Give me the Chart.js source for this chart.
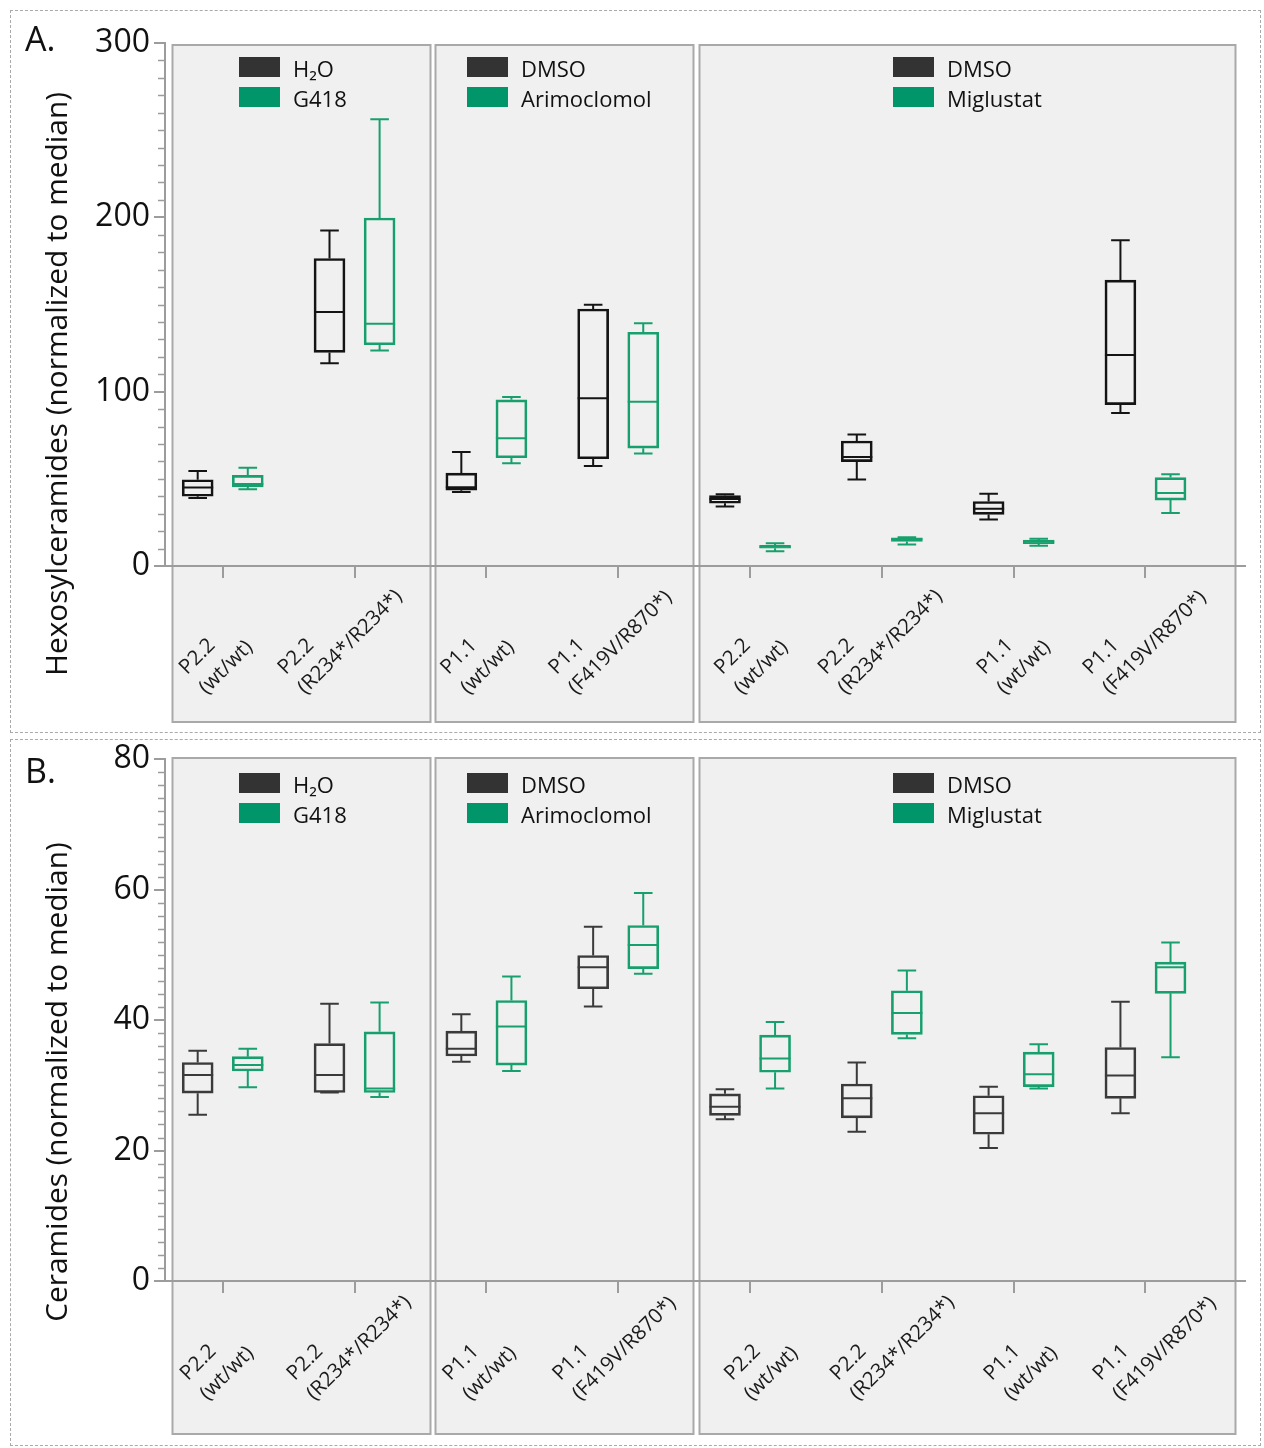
<!DOCTYPE html>
<html>
<head>
<meta charset="utf-8">
<title>Hexosylceramides and ceramides</title>
<script src="https://cdn.jsdelivr.net/npm/chart.js@4.4.1/dist/chart.umd.min.js"></script>
<style>
  html, body { margin: 0; padding: 0; background: #fff; }
  #wrap { position: relative; width: 1264px; height: 1448px; overflow: hidden; }
  .frame { position: absolute; border: 1px dashed #a9a9a9; box-sizing: border-box; }
  canvas { position: absolute; left: 0; }
</style>
</head>
<body>
<div id="wrap">
  <div class="frame" style="left:10px;top:10px;width:1251px;height:723px"></div>
  <div class="frame" style="left:10px;top:739px;width:1251px;height:707px"></div>
  <canvas id="hexChart" width="1264" height="736" style="top:0"></canvas>
  <canvas id="cerChart" width="1264" height="712" style="top:736px"></canvas>
</div>
<script>
// ---- data ---------------------------------------------------------------
const categories = [
  ['P2.2', '(wt/wt)'], ['P2.2', '(R234*/R234*)'],
  ['P1.1', '(wt/wt)'], ['P1.1', '(F419V/R870*)'],
  ['P2.2', '(wt/wt)'], ['P2.2', '(R234*/R234*)'],
  ['P1.1', '(wt/wt)'], ['P1.1', '(F419V/R870*)']
];
const vehicleNames = ['H\u2082O', 'DMSO', 'DMSO'];
const treatmentNames = ['G418', 'Arimoclomol', 'Miglustat'];

// five-number summaries per category: [min, q1, median, q3, max]
const hexVehicle = [
  [39.0, 40.0, 45.0, 49.5, 54.5],
  [116.3, 122.5, 145.7, 176.4, 192.4],
  [42.5, 43.5, 45.2, 53.3, 65.4],
  [57.4, 61.5, 96.2, 147.4, 149.8],
  [34.1, 36.0, 38.4, 40.4, 41.1],
  [49.6, 59.9, 62.5, 71.7, 75.4],
  [26.7, 29.6, 32.9, 37.0, 41.5],
  [87.7, 92.6, 121.0, 164.0, 186.9]
];
const hexTreated = [
  [44.0, 45.3, 47.0, 52.0, 56.3],
  [123.6, 126.9, 138.9, 199.6, 256.3],
  [59.0, 62.1, 73.3, 95.3, 96.9],
  [64.6, 67.6, 94.2, 134.1, 139.2],
  [8.5, 10.2, 11.0, 11.8, 13.1],
  [12.3, 14.1, 15.3, 16.1, 16.5],
  [11.6, 12.8, 13.9, 14.9, 15.7],
  [30.4, 37.8, 41.9, 50.7, 52.7]
];
const cerVehicle = [
  [25.5, 28.8, 31.6, 33.5, 35.3],
  [28.9, 28.9, 31.6, 36.4, 42.5],
  [33.6, 34.5, 35.6, 38.3, 40.9],
  [42.1, 44.8, 48.1, 49.9, 54.3],
  [24.8, 25.4, 26.7, 28.7, 29.4],
  [22.9, 25.0, 28.0, 30.2, 33.5],
  [20.4, 22.5, 25.7, 28.4, 29.8],
  [25.7, 28.0, 31.5, 35.8, 42.8]
];
const cerTreated = [
  [29.7, 32.2, 33.1, 34.4, 35.6],
  [28.2, 28.9, 29.5, 38.2, 42.7],
  [32.2, 33.1, 39.0, 43.0, 46.7],
  [47.1, 47.9, 51.5, 54.5, 59.5],
  [29.5, 32.0, 34.1, 37.7, 39.7],
  [37.2, 37.8, 41.1, 44.5, 47.6],
  [29.5, 29.8, 31.7, 35.1, 36.3],
  [34.3, 44.1, 48.1, 48.9, 51.9]
];
const hexTicks = [0, 100, 200, 300];
const cerTicks = [0, 20, 40, 60, 80];

// ---- layout & style -----------------------------------------------------
const FONT = '"Open Sans", "DejaVu Sans", sans-serif';
const AXIS_GRAY = '#9c9c9c';
const GREEN_LINE = '#17a06e';
const GREEN_KEY = '#00966a';
const DARK_KEY = '#333333';
const X_MIN = -0.438, X_MAX = 7.755;          // linear category axis range
const BOX_SHIFT = 0.19;                        // box offset from category centre
const PANEL_SPANS = [[-0.385, 1.572], [1.61, 3.568], [3.613, 7.679]];
const LEGEND_LEFT = [239, 467, 893];
const TITLE_LENGTH = 584;

const positions = categories.map((c, i) => i);

function boxData(stats, side) {
  return stats.map((s, i) => ({ x: positions[i] + side * BOX_SHIFT, y: [s[1], s[3]] }));
}

function titleFontSize(ctx) {
  ctx.save();
  ctx.font = '28px ' + FONT;
  const w = ctx.measureText('Hexosylceramides (normalized to median)').width;
  ctx.restore();
  return 28 * TITLE_LENGTH / w;
}

function boxPlotPlugin(cfg) {
  return {
    id: 'boxPlotPanels',
    beforeDraw(chart) {
      const ctx = chart.ctx, xs = chart.scales.x;
      ctx.save();
      PANEL_SPANS.forEach(([a, b]) => {
        const l = Math.round(xs.getPixelForValue(a)) + 0.5;
        const r = Math.round(xs.getPixelForValue(b)) + 0.5;
        ctx.fillStyle = '#f0f0f0';
        ctx.fillRect(l, cfg.panelTop, r - l, cfg.panelBottom - cfg.panelTop);
        ctx.strokeStyle = '#a9a9a9';
        ctx.lineWidth = 2;
        ctx.strokeRect(l, cfg.panelTop, r - l, cfg.panelBottom - cfg.panelTop);
      });
      ctx.restore();
    },
    afterDatasetsDraw(chart) {
      const ctx = chart.ctx, ys = chart.scales.y;
      const groups = [cfg.vehicle, cfg.treated];
      ctx.save();
      ctx.lineWidth = 2;
      groups.forEach((stats, d) => {
        const meta = chart.getDatasetMeta(d);
        ctx.strokeStyle = d === 0 ? cfg.vehicleColor : GREEN_LINE;
        meta.data.forEach((bar, i) => {
          const { x, width } = bar.getProps(['x', 'width'], true);
          const [mn, q1, med, q3, mx] = stats[i];
          const cap = width * 0.3;
          const pMin = ys.getPixelForValue(mn), pQ1 = ys.getPixelForValue(q1);
          const pMed = ys.getPixelForValue(med), pQ3 = ys.getPixelForValue(q3);
          const pMax = ys.getPixelForValue(mx);
          ctx.beginPath();
          // upper whisker and cap
          ctx.moveTo(x, pQ3); ctx.lineTo(x, pMax);
          ctx.moveTo(x - cap, pMax); ctx.lineTo(x + cap, pMax);
          // lower whisker and cap
          ctx.moveTo(x, pQ1); ctx.lineTo(x, pMin);
          ctx.moveTo(x - cap, pMin); ctx.lineTo(x + cap, pMin);
          // median
          ctx.moveTo(x - width / 2, pMed); ctx.lineTo(x + width / 2, pMed);
          ctx.stroke();
        });
      });
      ctx.restore();
    },
    afterDraw(chart) {
      const ctx = chart.ctx, xs = chart.scales.x, ys = chart.scales.y;
      const area = chart.chartArea;
      ctx.save();

      // minor ticks on the value axis
      ctx.strokeStyle = AXIS_GRAY;
      ctx.lineWidth = 1.5;
      ctx.beginPath();
      for (let v = cfg.minorStep; v < cfg.yMax; v += cfg.minorStep) {
        if (Math.abs(v / cfg.yStep - Math.round(v / cfg.yStep)) < 1e-6) continue;
        const py = Math.round(ys.getPixelForValue(v)) + 0.5;
        ctx.moveTo(area.left - 7, py); ctx.lineTo(area.left, py);
      }
      ctx.stroke();

      // rotated two-line category labels
      ctx.fillStyle = '#1a1a1a';
      ctx.font = '20.5px ' + FONT;
      ctx.textAlign = 'left';
      ctx.textBaseline = 'alphabetic';
      categories.forEach((lines, i) => {
        const tx = xs.getPixelForValue(positions[i]);
        ctx.save();
        ctx.translate(tx + cfg.labelShift[i], area.bottom + cfg.labelDy);
        ctx.rotate(-Math.PI / 4);
        ctx.fillText(lines[1], 0, 0);
        ctx.fillText(lines[0], 0, -28);
        ctx.restore();
      });

      // legends, one per panel
      ctx.font = '22px ' + FONT;
      ctx.textBaseline = 'middle';
      PANEL_SPANS.forEach((span, p) => {
        const lx = LEGEND_LEFT[p];
        const t0 = cfg.panelTop + cfg.legendDy;
        ctx.fillStyle = DARK_KEY;
        ctx.fillRect(lx, t0, 41, 20);
        ctx.fillStyle = GREEN_KEY;
        ctx.fillRect(lx, t0 + 30, 41, 20);
        ctx.fillStyle = '#111';
        ctx.fillText(vehicleNames[p], lx + 54, t0 + 14);
        ctx.fillText(treatmentNames[p], lx + 54, t0 + 44);
      });

      // axis title
      ctx.font = titleFontSize(ctx).toFixed(2) + 'px ' + FONT;
      ctx.fillStyle = '#111';
      ctx.textAlign = 'center';
      ctx.textBaseline = 'middle';
      ctx.save();
      ctx.translate(58, cfg.titleY);
      ctx.rotate(-Math.PI / 2);
      ctx.fillText(cfg.title, 0, 0);
      ctx.restore();

      // panel letter
      ctx.font = '34px ' + FONT;
      ctx.textAlign = 'left';
      ctx.fillText(cfg.letter, 25, cfg.letterY);
      ctx.restore();
    }
  };
}

function makeChart(canvasId, cfg) {
  const canvas = document.getElementById(canvasId);
  return new Chart(canvas, {
    type: 'bar',
    data: {
      datasets: [
        {
          label: 'vehicle',
          data: boxData(cfg.vehicle, -1),
          backgroundColor: 'rgba(0,0,0,0)',
          borderColor: cfg.vehicleColor,
          borderWidth: 2,
          borderSkipped: false,
          barThickness: 31,
          grouped: false
        },
        {
          label: 'treatment',
          data: boxData(cfg.treated, 1),
          backgroundColor: 'rgba(0,0,0,0)',
          borderColor: GREEN_LINE,
          borderWidth: 2,
          borderSkipped: false,
          barThickness: 31,
          grouped: false
        }
      ]
    },
    options: {
      responsive: false,
      animation: false,
      devicePixelRatio: 1,
      layout: { padding: { left: 0, right: 19, top: cfg.top, bottom: 0 } },
      plugins: { legend: { display: false }, tooltip: { enabled: false } },
      scales: {
        x: {
          type: 'linear',
          min: X_MIN,
          max: X_MAX,
          offset: false,
          afterBuildTicks(scale) { scale.ticks = positions.map(v => ({ value: v })); },
          afterFit(scale) { scale.height = canvas.height - cfg.bottom; },
          ticks: { display: false },
          grid: { offset: false, drawOnChartArea: false, drawTicks: true, tickLength: 12, color: AXIS_GRAY, lineWidth: 2 },
          border: { color: AXIS_GRAY, width: 2 }
        },
        y: {
          type: 'linear',
          min: 0,
          max: cfg.yMax,
          afterBuildTicks(scale) { scale.ticks = cfg.ticks.map(v => ({ value: v })); },
          afterFit(scale) { scale.width = 165; },
          ticks: { color: '#111', font: { family: FONT, size: 32 }, padding: 4 },
          grid: { drawOnChartArea: false, drawTicks: true, tickLength: 11, color: AXIS_GRAY, lineWidth: 2 },
          border: { color: AXIS_GRAY, width: 2 }
        }
      }
    },
    plugins: [boxPlotPlugin(cfg)]
  });
}

makeChart('hexChart', {
  vehicle: hexVehicle, treated: hexTreated, ticks: hexTicks,
  yMax: 300, yStep: 100, minorStep: 10,
  top: 43, bottom: 566, panelTop: 45, panelBottom: 722,
  legendDy: 12, labelDy: 129,
  labelShift: [-16, -49, -18, -42, -8, -36, -9, -35],
  vehicleColor: '#141414',
  title: 'Hexosylceramides (normalized to median)', titleY: 384,
  letter: 'A.', letterY: 41
});

makeChart('cerChart', {
  vehicle: cerVehicle, treated: cerTreated, ticks: cerTicks,
  yMax: 80, yStep: 20, minorStep: 2,
  top: 22, bottom: 545, panelTop: 22, panelBottom: 698,
  legendDy: 15, labelDy: 120,
  labelShift: [-15, -40, -16, -38, 2, -24, -2, -25],
  vehicleColor: '#3a3a3a',
  title: 'Ceramides (normalized to median)', titleY: 346,
  letter: 'B.', letterY: 37
});
</script>
</body>
</html>
